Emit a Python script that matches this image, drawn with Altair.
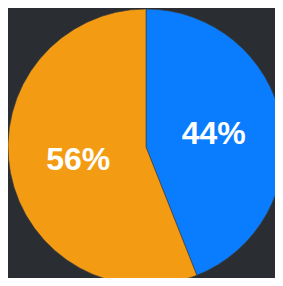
import altair as alt
import pandas as pd

categories = ["Blue", "Orange"]
values = [44, 56]
labels = ["44%", "56%"]
colors = ["#0a7cfe", "#f39c13"]

df = pd.DataFrame({"cat": categories, "value": values, "label": labels, "order": [0, 1]})

base = alt.Chart(df).encode(
    theta=alt.Theta("value:Q", stack=True),
    order=alt.Order("order:Q"),
)

arc = base.mark_arc(
    radius=138, stroke="#3a3a3a", strokeWidth=0.6,
    x=alt.ExprRef("138"), y=alt.ExprRef("139")
).encode(
    color=alt.Color("cat:N", scale=alt.Scale(domain=categories, range=colors), legend=None)
)

text = base.mark_text(
    radius=69, font="Liberation Sans", fontSize=32, fontWeight="bold",
    color="white", baseline="middle", align="center",
    x=alt.ExprRef("138"), y=alt.ExprRef("139")
).encode(text="label:N")

chart = (arc + text).properties(
    width=267, height=270, padding=0, autosize=alt.AutoSizeParams(type="none"),
    background="#2a2d31"
).configure_view(stroke=None)

chart.save("out.html", embed_options={"renderer": "svg", "actions": False})
